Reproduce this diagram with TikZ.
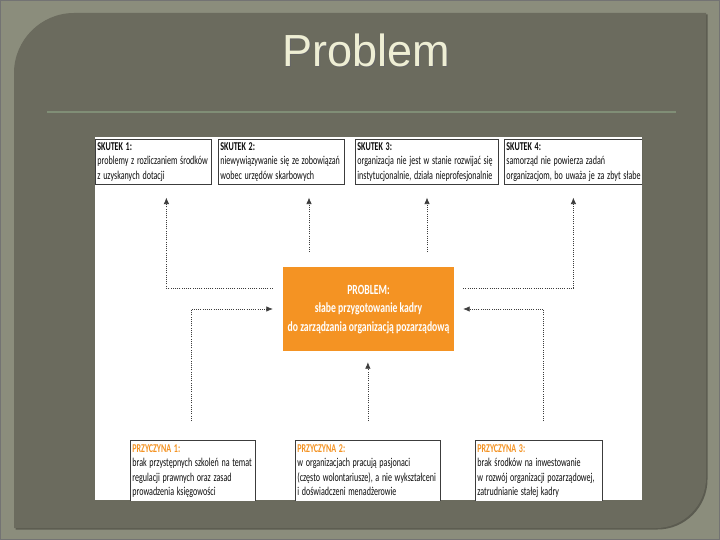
\documentclass[tikz,border=0pt]{standalone}
\usepackage{fontspec}
\usepackage{graphicx}
\setmainfont{Carlito}
\newfontfamily\titlefont{Liberation Sans}
\usetikzlibrary{arrows.meta}
\definecolor{outerbg}{RGB}{139,141,124}
\definecolor{panel}{RGB}{107,107,94}
\definecolor{titlecol}{RGB}{238,238,212}
\definecolor{sepline}{RGB}{128,142,118}
\definecolor{orng}{RGB}{244,147,35}
\definecolor{boxline}{RGB}{60,60,60}
\definecolor{conncol}{RGB}{60,60,60}
\newcommand\narrowtext[2]{\scalebox{#1}[1]{\begin{tabular}{@{}l@{}}#2\end{tabular}}}
\newcommand\narrowcenter[2]{\scalebox{#1}[1]{\begin{tabular}{@{}c@{}}#2\end{tabular}}}
\begin{document}
\begin{tikzpicture}[x=1pt,y=-1pt,
  txt/.style={font=\fontsize{12}{14.6}\selectfont, text=black!95},
  effect/.style={txt, draw=boxline, line width=0.8pt, fill=white, anchor=north west,
                 inner xsep=2pt, inner ysep=0.5pt, align=left},
  cause/.style={effect, inner ysep=1.5pt},
  conn/.style={draw=conncol, line width=0.7pt, dash pattern=on 1pt off 1.2pt,
               -{Latex[length=6.5pt,width=5.5pt]}},
  probbox/.style={fill=orng, text=white, minimum width=171pt,
                  minimum height=84pt, inner sep=0pt,
                  font=\bfseries\fontsize{14}{18.5}\selectfont},
]
\useasboundingbox (0,0) rectangle (720,540);
% slide background
\fill[outerbg] (0,0) rectangle (720,540);
\draw[black!55, line width=1pt] (0.5,0.5) rectangle (719.5,539.5);
\fill[panel!85!black] (15.5,74.5) .. controls (15.5,41.5) and (42.5,14.5) .. (75.5,14.5)
   -- (707.5,14.5) -- (707.5,479.5) .. controls (707.5,507) and (685,529.5) .. (657.5,529.5)
   -- (15.5,529.5) -- cycle;
\fill[panel] (14,73) .. controls (14,40) and (41,13) .. (74,13) -- (706,13)
   -- (706,478) .. controls (706,505.5) and (683.5,528) .. (656,528) -- (14,528) -- cycle;
% title
\node[font=\titlefont\fontsize{45}{50}\selectfont, text=black!60, anchor=base, inner sep=0pt]
  (titleshadow) at (367,68) {Problem};
\node[font=\titlefont\fontsize{45}{50}\selectfont, text=titlecol, anchor=base, inner sep=0pt]
  (title) at (366,67) {Problem};
\draw[sepline, line width=1.6pt] (47,112) -- (676,112);
% white diagram area
\begin{scope}
\clip (95,137) rectangle (642,500);
\fill[white] (95,137) rectangle (642,500);
\node[effect, text width=112pt] (s1) at (95,139)
  {\narrowtext{0.67}{\textbf{SKUTEK 1:}\\problemy z rozliczaniem środków\\z uzyskanych dotacji}};
\node[effect, text width=122pt] (s2) at (218,139)
  {\narrowtext{0.67}{\textbf{SKUTEK 2:}\\niewywiązywanie się ze zobowiązań\\wobec urzędów skarbowych}};
\node[effect, text width=139pt] (s3) at (355,139)
  {\narrowtext{0.67}{\textbf{SKUTEK 3:}\\organizacja nie jest w stanie rozwijać się\\instytucjonalnie, działa nieprofesjonalnie}};
\node[effect, text width=134pt] (s4) at (504,139)
  {\narrowtext{0.67}{\textbf{SKUTEK 4:}\\samorząd nie powierza zadań\\organizacjom, bo uważa je za zbyt słabe}};
\node[probbox] (prob) at (368.5,309)
  {\narrowcenter{0.69}{PROBLEM:\\słabe przygotowanie kadry\\do zarządzania organizacją pozarządową}};
\node[cause, text width=121pt] (p1) at (130,440)
  {\narrowtext{0.67}{\textbf{\color{orng}PRZYCZYNA 1:}\\brak przystępnych szkoleń na temat\\regulacji prawnych oraz zasad\\prowadzenia księgowości\rule[-10pt]{0pt}{1pt}}};
\node[cause, text width=141pt] (p2) at (295,440)
  {\narrowtext{0.67}{\textbf{\color{orng}PRZYCZYNA 2:}\\w organizacjach pracują pasjonaci\\(często wolontariusze), a nie wykształceni\\i doświadczeni menadżerowie\rule[-10pt]{0pt}{1pt}}};
\node[cause, text width=123pt] (p3) at (475,440)
  {\narrowtext{0.67}{\textbf{\color{orng}PRZYCZYNA 3:}\\brak środków na inwestowanie\\w rozwój organizacji pozarządowej,\\zatrudnianie stałej kadry\rule[-10pt]{0pt}{1pt}}};
\end{scope}
% connectors: effects
\draw[conn, shorten <=10pt, shorten >=13pt] ([yshift=21pt]prob.west) -| ([xshift=13pt]s1.south);
\coordinate (e2) at (309,252);
\draw[conn, shorten >=13pt] (e2) -- (s2.south -| e2);
\coordinate (e3) at (427,252);
\draw[conn, shorten >=13pt] (e3) -- (s3.south -| e3);
\draw[conn, shorten <=9pt, shorten >=13pt] ([yshift=21pt]prob.east) -| (s4.south);
% connectors: causes
\draw[conn, shorten <=19pt, shorten >=10pt] ([xshift=-1.5pt]p1.north) |- (prob.west);
\draw[conn, shorten <=19pt, shorten >=11pt] (p2.north) -- (p2.north |- prob.south);
\draw[conn, shorten <=19pt, shorten >=9pt] ([xshift=4.5pt]p3.north) |- (prob.east);
\end{tikzpicture}
\end{document}
